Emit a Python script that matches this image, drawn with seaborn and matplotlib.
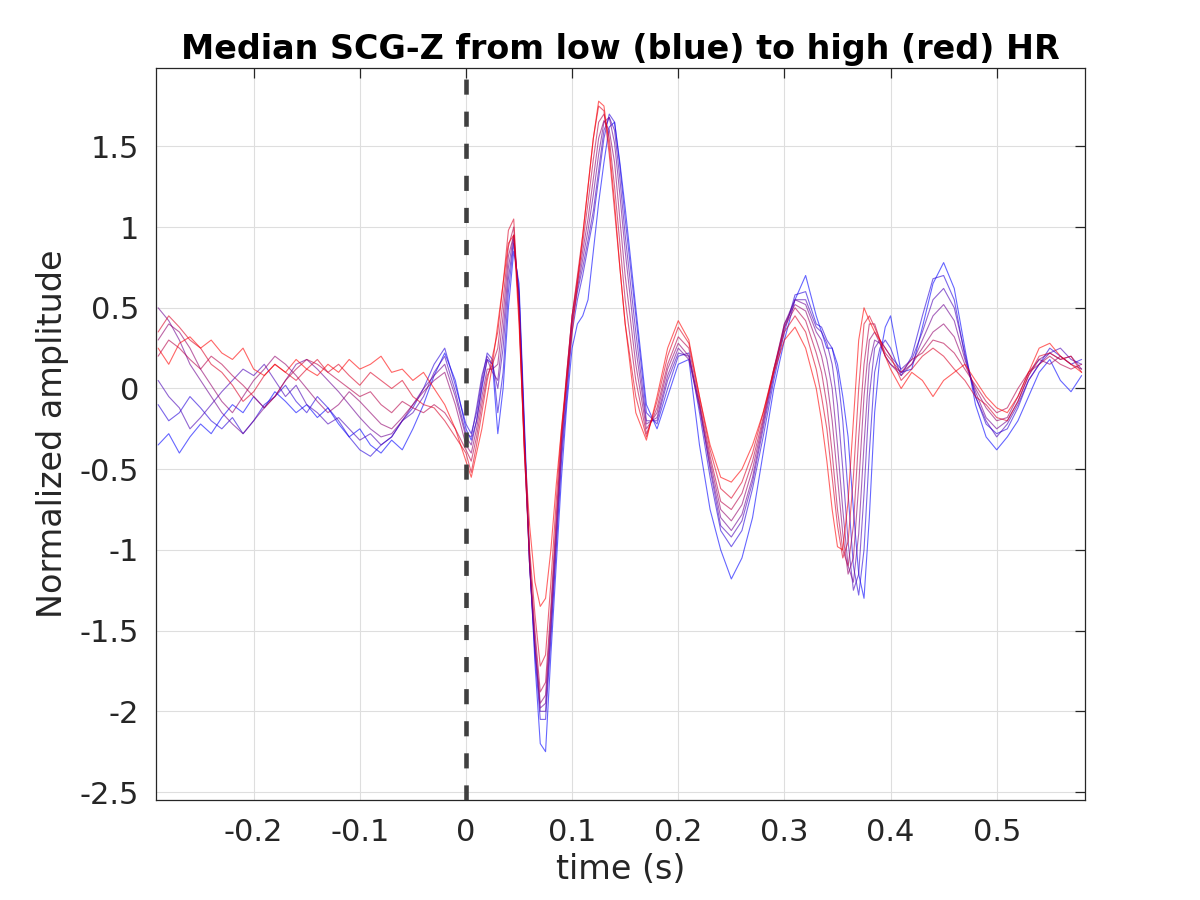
import numpy as np
import pandas as pd
import matplotlib
matplotlib.use("Agg")
import matplotlib.pyplot as plt
import seaborn as sns

# ---------------- data ----------------
time_s = [-0.29, -0.28, -0.27, -0.26, -0.25, -0.24, -0.23, -0.22, -0.21, -0.20,
          -0.19, -0.18, -0.17, -0.16, -0.15, -0.14, -0.13, -0.12, -0.11, -0.10,
          -0.09, -0.08, -0.07, -0.06, -0.05, -0.04, -0.03, -0.02, -0.01,
          0.000, 0.005, 0.010, 0.015, 0.020, 0.025, 0.030, 0.035, 0.040, 0.045,
          0.050, 0.055, 0.060, 0.065, 0.070, 0.075, 0.080, 0.085, 0.090, 0.095,
          0.100, 0.105, 0.110, 0.115, 0.120, 0.125, 0.130, 0.135, 0.140, 0.145,
          0.150,
          0.16, 0.17, 0.18, 0.19, 0.20, 0.21, 0.22, 0.23, 0.24, 0.25,
          0.26, 0.27, 0.28, 0.29, 0.30, 0.31, 0.32, 0.33,
          0.335, 0.340, 0.345, 0.350, 0.355, 0.360, 0.365, 0.370, 0.375, 0.380,
          0.385, 0.390, 0.395, 0.400,
          0.41, 0.42, 0.43, 0.44, 0.45, 0.46, 0.47, 0.48, 0.49, 0.50,
          0.51, 0.52, 0.53, 0.54, 0.55, 0.56, 0.57, 0.58]

# lowest HR (blue) ... highest HR (red)
hr_1 = [-0.35, -0.28, -0.40, -0.30, -0.22, -0.28, -0.18, -0.10, -0.15, -0.05,
        -0.12, -0.02, -0.08, -0.15, -0.10, -0.18, -0.12, -0.22, -0.30, -0.25,
        -0.35, -0.40, -0.32, -0.38, -0.25, -0.10, 0.08, 0.22, 0.05,
        -0.25, -0.32, -0.20, 0.00, 0.18, 0.15, -0.28, 0.00, 0.50, 0.85,
        0.65, -0.20, -1.05, -1.70, -2.20, -2.25, -1.65, -1.10, -0.55, -0.10,
        0.25, 0.40, 0.45, 0.55, 0.85, 1.15, 1.40, 1.62, 1.65, 1.40,
        1.12,
        0.50, -0.10, -0.25, -0.05, 0.15, 0.18, -0.35, -0.75, -1.00, -1.18,
        -1.05, -0.80, -0.40, 0.00, 0.30, 0.55, 0.70, 0.45,
        0.35, 0.25, 0.25, 0.15, -0.05, -0.30, -0.75, -1.15, -1.30, -0.80,
        -0.15, 0.20, 0.38, 0.45,
        0.10, 0.12, 0.38, 0.65, 0.78, 0.62, 0.25, -0.10, -0.30, -0.38,
        -0.30, -0.20, -0.05, 0.10, 0.18, 0.05, -0.02, 0.08]

hr_2 = [-0.10, -0.20, -0.15, -0.05, -0.12, -0.20, -0.25, -0.18, -0.28, -0.20,
        -0.10, -0.05, 0.02, -0.08, -0.15, -0.05, -0.12, -0.20, -0.30, -0.38,
        -0.42, -0.35, -0.30, -0.20, -0.12, 0.00, 0.15, 0.25, 0.02,
        -0.22, -0.28, -0.15, 0.05, 0.22, 0.18, -0.15, 0.10, 0.60, 0.90,
        0.60, -0.25, -1.10, -1.65, -2.05, -2.05, -1.55, -1.00, -0.45, -0.05,
        0.35, 0.55, 0.70, 0.88, 1.05, 1.30, 1.55, 1.70, 1.65, 1.38,
        1.05,
        0.45, -0.15, -0.22, 0.00, 0.20, 0.22, -0.15, -0.55, -0.88, -0.98,
        -0.88, -0.62, -0.30, 0.05, 0.35, 0.58, 0.60, 0.40,
        0.38, 0.30, 0.25, 0.10, -0.20, -0.65, -1.10, -1.28, -1.00, -0.40,
        0.10, 0.25, 0.30, 0.25,
        0.08, 0.20, 0.45, 0.68, 0.70, 0.55, 0.20, -0.05, -0.22, -0.28,
        -0.25, -0.12, 0.05, 0.15, 0.25, 0.20, 0.15, 0.18]

hr_3 = [0.05, -0.05, -0.12, -0.25, -0.18, -0.10, -0.02, 0.05, 0.12, 0.08,
        0.15, 0.05, -0.05, 0.02, -0.10, -0.15, -0.22, -0.18, -0.25, -0.32,
        -0.28, -0.35, -0.30, -0.20, -0.15, -0.05, 0.10, 0.20, -0.02,
        -0.28, -0.30, -0.12, 0.08, 0.20, 0.15, 0.00, 0.25, 0.68, 0.92,
        0.58, -0.28, -1.10, -1.60, -2.00, -2.00, -1.50, -0.95, -0.40, 0.00,
        0.40, 0.60, 0.75, 0.92, 1.10, 1.35, 1.60, 1.68, 1.60, 1.30,
        0.95,
        0.35, -0.20, -0.20, 0.05, 0.22, 0.20, -0.10, -0.50, -0.85, -0.92,
        -0.82, -0.58, -0.25, 0.08, 0.38, 0.55, 0.55, 0.38,
        0.35, 0.28, 0.15, -0.10, -0.50, -0.95, -1.25, -1.15, -0.65, -0.05,
        0.25, 0.30, 0.25, 0.20,
        0.12, 0.18, 0.35, 0.55, 0.62, 0.50, 0.22, -0.05, -0.20, -0.30,
        -0.22, -0.10, 0.05, 0.15, 0.22, 0.25, 0.18, 0.15]

hr_4 = [0.50, 0.42, 0.30, 0.15, 0.05, -0.05, -0.15, -0.22, -0.28, -0.20,
        -0.12, -0.05, 0.05, 0.15, 0.18, 0.12, 0.05, -0.02, -0.10, -0.18,
        -0.25, -0.30, -0.28, -0.20, -0.10, 0.00, 0.08, 0.15, -0.05,
        -0.30, -0.35, -0.20, 0.02, 0.18, 0.10, 0.05, 0.35, 0.75, 0.95,
        0.55, -0.30, -1.10, -1.60, -1.98, -1.95, -1.45, -0.90, -0.35, 0.05,
        0.42, 0.62, 0.80, 0.98, 1.20, 1.45, 1.65, 1.68, 1.52, 1.20,
        0.85,
        0.25, -0.22, -0.18, 0.08, 0.25, 0.18, -0.12, -0.48, -0.80, -0.88,
        -0.78, -0.55, -0.22, 0.10, 0.40, 0.55, 0.52, 0.35,
        0.30, 0.18, 0.00, -0.35, -0.75, -1.10, -1.20, -0.90, -0.35, 0.15,
        0.30, 0.28, 0.20, 0.15,
        0.10, 0.15, 0.30, 0.45, 0.52, 0.42, 0.18, -0.02, -0.18, -0.25,
        -0.20, -0.08, 0.08, 0.18, 0.22, 0.18, 0.20, 0.12]

hr_5 = [0.30, 0.40, 0.35, 0.25, 0.12, 0.02, -0.08, -0.15, -0.05, 0.05,
        0.12, 0.20, 0.15, 0.08, 0.00, -0.08, -0.15, -0.10, -0.02, -0.08,
        -0.15, -0.22, -0.25, -0.18, -0.10, -0.02, 0.05, 0.10, -0.10,
        -0.35, -0.40, -0.25, -0.05, 0.12, 0.12, 0.15, 0.45, 0.82, 0.95,
        0.50, -0.35, -1.10, -1.55, -1.95, -1.90, -1.40, -0.85, -0.32, 0.08,
        0.45, 0.65, 0.85, 1.05, 1.30, 1.55, 1.66, 1.60, 1.40, 1.05,
        0.70,
        0.15, -0.25, -0.15, 0.12, 0.28, 0.20, -0.10, -0.45, -0.75, -0.82,
        -0.72, -0.50, -0.20, 0.12, 0.40, 0.52, 0.48, 0.30,
        0.20, 0.05, -0.20, -0.55, -0.90, -1.15, -1.05, -0.60, -0.05, 0.30,
        0.35, 0.28, 0.20, 0.15,
        0.08, 0.15, 0.25, 0.35, 0.40, 0.32, 0.15, 0.00, -0.12, -0.20,
        -0.18, -0.05, 0.10, 0.18, 0.15, 0.20, 0.15, 0.12]

hr_6 = [0.20, 0.30, 0.25, 0.18, 0.12, 0.20, 0.15, 0.08, 0.02, -0.05,
        -0.12, -0.05, 0.05, 0.12, 0.18, 0.15, 0.10, 0.05, 0.00, -0.05,
        -0.02, -0.10, -0.15, -0.08, -0.12, -0.15, -0.10, -0.15, -0.25,
        -0.38, -0.45, -0.30, -0.10, 0.08, 0.15, 0.25, 0.55, 0.88, 1.00,
        0.48, -0.38, -1.05, -1.50, -1.88, -1.82, -1.35, -0.80, -0.30, 0.10,
        0.45, 0.68, 0.90, 1.15, 1.42, 1.65, 1.70, 1.55, 1.25, 0.90,
        0.55,
        0.05, -0.28, -0.12, 0.15, 0.32, 0.25, -0.08, -0.42, -0.70, -0.75,
        -0.65, -0.45, -0.18, 0.12, 0.38, 0.50, 0.42, 0.22,
        0.10, -0.10, -0.40, -0.75, -1.00, -1.10, -0.85, -0.30, 0.15, 0.40,
        0.40, 0.30, 0.22, 0.18,
        0.10, 0.18, 0.22, 0.30, 0.28, 0.22, 0.12, 0.02, -0.08, -0.15,
        -0.12, 0.00, 0.10, 0.15, 0.20, 0.15, 0.12, 0.15]

hr_7 = [0.35, 0.45, 0.38, 0.30, 0.25, 0.15, 0.10, 0.02, -0.08, -0.02,
        0.08, 0.15, 0.10, 0.05, 0.12, 0.18, 0.10, 0.15, 0.08, 0.02,
        0.10, 0.05, 0.00, 0.05, -0.05, -0.10, -0.12, -0.20, -0.30,
        -0.40, -0.52, -0.35, -0.15, 0.05, 0.20, 0.35, 0.65, 0.98, 1.05,
        0.45, -0.40, -1.00, -1.40, -1.72, -1.65, -1.20, -0.70, -0.25, 0.10,
        0.45, 0.70, 0.95, 1.25, 1.55, 1.75, 1.72, 1.45, 1.10, 0.75,
        0.40,
        -0.05, -0.30, -0.08, 0.20, 0.38, 0.28, -0.05, -0.38, -0.62, -0.68,
        -0.58, -0.40, -0.15, 0.12, 0.35, 0.45, 0.35, 0.12,
        -0.05, -0.25, -0.55, -0.85, -1.05, -0.95, -0.55, 0.00, 0.40, 0.45,
        0.38, 0.30, 0.25, 0.20,
        0.05, 0.12, 0.20, 0.25, 0.20, 0.12, 0.05, -0.05, -0.10, -0.18,
        -0.20, -0.08, 0.08, 0.20, 0.22, 0.18, 0.20, 0.10]

hr_8 = [0.25, 0.15, 0.28, 0.32, 0.25, 0.30, 0.22, 0.18, 0.25, 0.12,
        0.08, 0.15, 0.10, 0.18, 0.12, 0.08, 0.15, 0.10, 0.18, 0.12,
        0.15, 0.20, 0.10, 0.12, 0.05, 0.10, 0.00, -0.10, -0.25,
        -0.45, -0.55, -0.40, -0.25, -0.05, 0.15, 0.40, 0.65, 0.90, 0.95,
        0.40, -0.35, -0.85, -1.20, -1.35, -1.30, -1.00, -0.60, -0.25, 0.05,
        0.35, 0.65, 0.95, 1.25, 1.55, 1.78, 1.75, 1.50, 1.15, 0.75,
        0.40,
        -0.15, -0.32, -0.05, 0.25, 0.42, 0.30, -0.05, -0.35, -0.55, -0.58,
        -0.50, -0.35, -0.15, 0.10, 0.30, 0.38, 0.25, 0.00,
        -0.20, -0.45, -0.75, -0.98, -1.00, -0.70, -0.20, 0.30, 0.50, 0.42,
        0.35, 0.30, 0.20, 0.12,
        0.00, 0.10, 0.05, -0.05, 0.05, 0.10, 0.15, 0.05, -0.05, -0.12,
        -0.15, -0.05, 0.10, 0.25, 0.28, 0.20, 0.15, 0.10]

curves = [hr_1, hr_2, hr_3, hr_4, hr_5, hr_6, hr_7, hr_8]

x_ticks = [-0.2, -0.1, 0, 0.1, 0.2, 0.3, 0.4, 0.5]
x_tick_labels = ["-0.2", "-0.1", "0", "0.1", "0.2", "0.3", "0.4", "0.5"]
y_ticks = [-2.5, -2, -1.5, -1, -0.5, 0, 0.5, 1, 1.5]
y_tick_labels = ["-2.5", "-2", "-1.5", "-1", "-0.5", "0", "0.5", "1", "1.5"]

# ---------------- plotting ----------------
sns.set_style("white")
plt.rcParams['font.family'] = ['DejaVu Sans']
plt.rcParams['axes.unicode_minus'] = False

fig = plt.figure(figsize=(12, 9), dpi=100)
ax = fig.add_axes([0.13, 0.111, 0.774, 0.813])

frames = []
for k, vals in enumerate(curves):
    frames.append(pd.DataFrame({"time": time_s, "amp": vals, "curve": k}))
df = pd.concat(frames, ignore_index=True)

n = len(curves)
palette = {k: (k / (n - 1), 0.0, 1 - k / (n - 1)) for k in range(n)}
sns.lineplot(data=df, x="time", y="amp", hue="curve", palette=palette,
             units="curve", estimator=None, sort=False, legend=False,
             lw=0.8, alpha=0.6, ax=ax)

ax.axvline(0, color="#404040", lw=3.3, ls=(0, (3.3, 3.7)), zorder=5)

ax.set_xlim(-0.292, 0.583)
ax.set_ylim(-2.55, 1.983)
ax.set_xticks(x_ticks)
ax.set_xticklabels(x_tick_labels)
ax.set_yticks(y_ticks)
ax.set_yticklabels(y_tick_labels)
ax.grid(True, color="#dedede", lw=0.8)
ax.set_axisbelow(True)
for s in ax.spines.values():
    s.set_visible(True)
    s.set_color("#262626")
    s.set_linewidth(0.9)
ax.tick_params(direction="in", length=7, width=0.9, top=True, right=True,
               labelsize=22, colors="#262626")
ax.tick_params(axis="x", pad=13)
ax.tick_params(axis="y", pad=12)
ax.set_xlabel("time (s)", fontsize=24, color="#262626", labelpad=4)
ax.set_ylabel("Normalized amplitude", fontsize=24, color="#262626", labelpad=8)
ax.set_title("Median SCG-Z from low (blue) to high (red) HR", fontsize=24,
             fontweight="bold", color="black", pad=7)

fig.savefig("out.png", dpi=100)
